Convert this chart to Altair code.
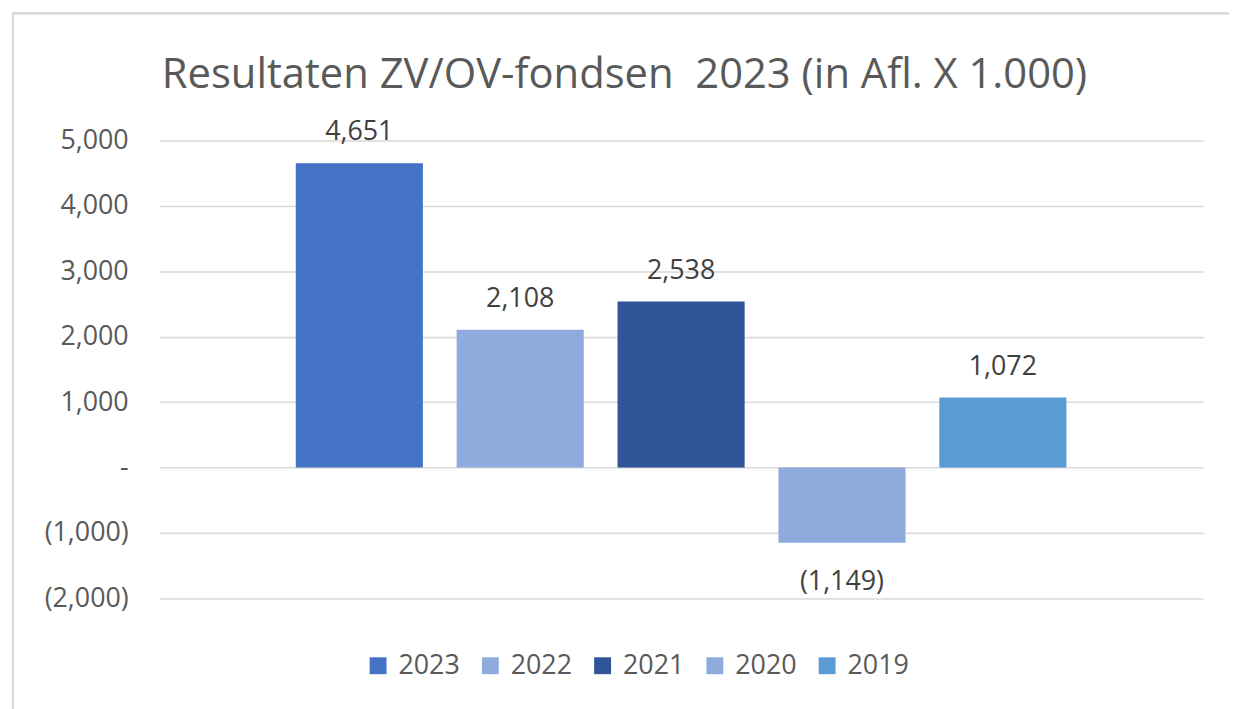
import altair as alt
import pandas as pd

years = ["2023", "2022", "2021", "2020", "2019"]
values = [4651, 2108, 2538, -1149, 1072]
colors = ["#4472C4", "#8FAADC", "#2F5597", "#8FAADC", "#5B9BD5"]
y_ticks = [-2000, -1000, 0, 1000, 2000, 3000, 4000, 5000]

df = pd.DataFrame({"year": years, "value": values})

FONT = "Open Sans"
GRID = "#d9d9d9"

x_enc = alt.X("year:N", sort=years, axis=None,
              scale=alt.Scale(paddingInner=0.21, paddingOuter=0.85))
y_scale = alt.Scale(domain=[-2000, 5000], nice=False, zero=True)

bars = alt.Chart(df).mark_bar().encode(
    x=x_enc,
    y=alt.Y("value:Q", scale=y_scale, title=None,
            axis=alt.Axis(values=y_ticks, grid=True, gridColor=GRID, gridWidth=1.6,
                          domain=False, ticks=False, labelPadding=31,
                          labelFont=FONT, labelFontSize=27, labelColor="#595959",
                          labelExpr="datum.value == 0 ? '-\u00a0\u00a0\u00a0' : (datum.value < 0 ? '(' + format(-datum.value, ',') + ')' : format(datum.value, ',') + '\u00a0')")),
    color=alt.Color("year:N", scale=alt.Scale(domain=years, range=colors),
                    legend=alt.Legend(orient="none", legendX=207, legendY=515,
                                      direction="horizontal", title=None,
                                      symbolType="square", symbolSize=289,
                                      symbolStrokeWidth=0, symbolOpacity=1,
                                      labelFont=FONT, labelFontSize=27,
                                      labelColor="#595959", labelOffset=7,
                                      columnPadding=17, padding=0)),
)

pos_labels = alt.Chart(df).transform_filter("datum.value >= 0").transform_calculate(
    lbl="format(datum.value, ',')"
).mark_text(font=FONT, fontSize=27, color="#404040", baseline="alphabetic", dy=-23).encode(
    x=x_enc, y=alt.Y("value:Q", scale=y_scale), text="lbl:N")

neg_labels = alt.Chart(df).transform_filter("datum.value < 0").transform_calculate(
    lbl="'(' + format(-datum.value, ',') + ')'"
).mark_text(font=FONT, fontSize=27, color="#404040", baseline="alphabetic", dy=48).encode(
    x=x_enc, y=alt.Y("value:Q", scale=y_scale), text="lbl:N")

frame_top = alt.Chart(df).mark_rule(color=GRID, strokeWidth=2).encode(
    x=alt.value(-148), x2=alt.value(1100), y=alt.value(-128))
frame_left = alt.Chart(df).mark_rule(color=GRID, strokeWidth=2).encode(
    x=alt.value(-147), y=alt.value(-129), y2=alt.value(600))

chart = alt.layer(frame_top, frame_left, bars, pos_labels, neg_labels).properties(
    width=1051, height=461,
    background="white",
    autosize=alt.AutoSizeParams(type="none"),
    padding={"left": 152, "top": 131, "right": 26, "bottom": 109},
    title=alt.TitleParams("Resultaten ZV/OV-fondsen\u00a0 2023 (in Afl. X 1.000)",
                          font=FONT, fontSize=42, fontWeight="normal", color="#595959",
                          anchor="middle", dx=-57, offset=0, dy=86),
).configure_view(stroke=None)

chart.save("out.html", embed_options={"renderer": "svg", "actions": False})
